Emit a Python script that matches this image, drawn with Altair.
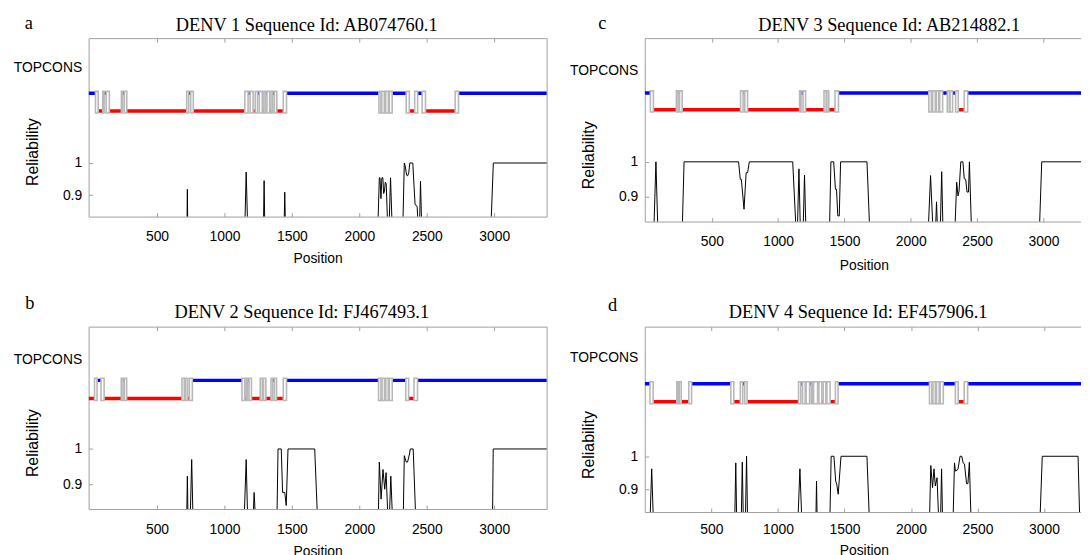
import altair as alt
import pandas as pd

# ---------------- data ----------------
# transmembrane segments (start, end) and side of the first loop
tm_a = [(44, 64), (98, 108), (123, 147), (236, 246), (258, 276), (720, 735), (750, 769),
        (1151, 1175), (1190, 1212), (1228, 1245), (1258, 1280), (1292, 1305), (1315, 1335),
        (1345, 1358), (1370, 1388), (1436, 1460), (2145, 2160), (2166, 2185), (2195, 2215),
        (2222, 2243), (2347, 2370), (2410, 2432), (2465, 2490), (2710, 2735)]
start_a = "out"
tm_b = [(37, 56), (85, 108), (235, 248), (258, 275), (685, 702), (712, 727), (740, 762),
        (1130, 1150), (1160, 1172), (1182, 1200), (1265, 1280), (1290, 1307), (1345, 1358),
        (1370, 1386), (1436, 1460), (2142, 2160), (2168, 2186), (2196, 2214), (2222, 2244),
        (2344, 2365), (2405, 2431)]
start_b = "in"
tm_c = [(37, 60), (233, 246), (257, 277), (717, 736), (749, 770), (1162, 1173), (1188, 1207),
        (1346, 1362), (1368, 1382), (1429, 1455), (2136, 2155), (2165, 2185), (2192, 2210),
        (2218, 2240), (2275, 2290), (2296, 2315), (2338, 2358), (2403, 2429)]
start_c = "out"
tm_d = [(38, 62), (240, 252), (258, 273), (330, 351), (646, 668), (717, 735), (750, 768),
        (1155, 1172), (1185, 1205), (1212, 1238), (1250, 1260), (1268, 1298), (1308, 1330),
        (1340, 1360), (1368, 1392), (1432, 1452), (2139, 2157), (2165, 2183), (2192, 2212),
        (2220, 2243), (2334, 2355), (2400, 2426)]
start_d = "out"

# reliability curves (position, value); 0.8 = below the visible range
rel_a = [(0, 0.8), (722, 0.8), (725, 0.918), (728, 0.8),
         (1151, 0.8), (1161, 0.972), (1172, 0.8),
         (1289, 0.8), (1294, 0.945), (1299, 0.8),
         (1442, 0.8), (1447, 0.909), (1452, 0.8),
         (2137, 0.8), (2148, 0.954), (2153, 0.954), (2160, 0.889), (2167, 0.954), (2174, 0.954),
         (2180, 0.905), (2186, 0.912), (2192, 0.94), (2199, 0.935), (2210, 0.8),
         (2220, 0.8), (2231, 0.954), (2243, 0.8),
         (2322, 0.8), (2333, 1.0), (2340, 0.99), (2350, 0.962), (2358, 0.96), (2366, 0.97),
         (2374, 1.0), (2396, 1.0), (2405, 0.93), (2413, 0.87), (2428, 0.865), (2436, 0.8),
         (2446, 0.8), (2453, 0.943), (2462, 0.8),
         (2975, 0.8), (2993, 1.0), (3400, 1.0)]
rel_b = [(0, 0.8), (720, 0.8), (725, 0.923), (727, 0.88), (729, 0.8),
         (746, 0.8), (757, 0.97), (767, 0.8),
         (1146, 0.8), (1161, 0.97), (1172, 0.8),
         (1212, 0.8), (1220, 0.877), (1230, 0.8),
         (1389, 0.8), (1397, 1.0), (1421, 1.0), (1431, 0.877), (1447, 0.877), (1458, 0.84),
         (1471, 1.0), (1669, 1.0), (1690, 0.8),
         (2140, 0.8), (2148, 0.963), (2161, 0.858), (2175, 0.942), (2188, 0.886), (2198, 0.933),
         (2212, 0.8),
         (2222, 0.8), (2233, 0.923), (2246, 0.8),
         (2325, 0.8), (2333, 0.981), (2347, 0.963), (2357, 0.963), (2368, 0.98), (2378, 1.0),
         (2399, 1.0), (2418, 0.8),
         (2987, 0.8), (2992, 1.0), (3400, 1.0)]
rel_c = [(0, 0.8), (63, 0.8), (79, 1.0), (94, 0.8),
         (277, 0.8), (291, 1.0), (702, 1.0), (715, 0.95), (723, 0.95), (743, 0.865), (759, 0.969),
         (770, 0.969), (783, 1.0), (1110, 1.0), (1136, 0.8),
         (1145, 0.8), (1157, 0.98), (1168, 0.8),
         (1188, 0.8), (1199, 0.962), (1210, 0.8),
         (1387, 0.8), (1398, 1.0), (1419, 1.0), (1432, 0.922), (1440, 0.922), (1450, 0.846),
         (1461, 0.846), (1471, 1.0), (1670, 1.0), (1691, 0.8),
         (2131, 0.8), (2149, 0.961), (2168, 0.8),
         (2186, 0.8), (2194, 0.886), (2202, 0.8),
         (2222, 0.8), (2233, 0.972), (2243, 0.8),
         (2332, 0.8), (2346, 0.942), (2356, 0.903), (2364, 0.917), (2377, 1.0), (2393, 1.0),
         (2403, 0.952), (2414, 0.95), (2424, 0.914), (2435, 0.914), (2442, 1.0), (2458, 0.8),
         (2969, 0.8), (2987, 1.0), (3400, 1.0)]
rel_d = [(0, 0.8), (38, 0.8), (51, 0.962), (64, 0.8),
         (675, 0.8), (683, 0.98), (690, 0.8),
         (724, 0.8), (732, 0.982), (740, 0.8),
         (755, 0.8), (764, 1.0), (772, 0.8),
         (1150, 0.8), (1165, 0.962), (1180, 0.8),
         (1285, 0.8), (1290, 0.925), (1295, 0.8),
         (1390, 0.8), (1400, 1.0), (1421, 1.0), (1434, 0.925), (1442, 0.915), (1453, 0.885),
         (1474, 1.0), (1669, 1.0), (1688, 0.8),
         (2139, 0.8), (2149, 0.972), (2162, 0.905), (2173, 0.962), (2183, 0.91), (2196, 0.935),
         (2209, 0.8),
         (2222, 0.8), (2230, 0.962), (2238, 0.8),
         (2316, 0.8), (2327, 0.98), (2334, 0.955), (2353, 0.96), (2369, 1.0), (2382, 1.0),
         (2392, 0.98), (2402, 0.977), (2418, 0.917), (2428, 0.917), (2439, 0.982), (2452, 0.8),
         (2969, 0.8), (2987, 1.0), (3256, 1.0), (3269, 0.8), (3400, 0.8)]

titles = ["DENV 1 Sequence Id: AB074760.1", "DENV 2 Sequence Id: FJ467493.1",
          "DENV 3 Sequence Id: AB214882.1", "DENV 4 Sequence Id: EF457906.1"]
letters = ["a", "b", "c", "d"]
x_ticks = [500, 1000, 1500, 2000, 2500, 3000]
y_ticks = [0.9, 1.0]
seq_end = 3400

# ---------------- style ----------------
BLUE = "#0000ff"
RED = "#ff0000"
BOXGRAY = "#b8b8b8"
FRAME = "#a0a0a0"
SANS = "Liberation Sans, Arial, Helvetica, sans-serif"
SERIF = "Liberation Serif, Times New Roman, serif"
FS = 14

# per-panel layout: x domain, width, height, y domain, topology levels, text placement
# (the right-hand panels are cut by the page edge, as in the reference)
layout = {
    "a": dict(xdom=[-7, 3388], w=462, h=180, ydom=[0.833, 1.389], blue=1.217, red=1.162,
              topv=1.298, tx=219.5, ty=-7.7, ldx=-64.9, ly=-9.8, lpad=13.5, tpad=7.5),
    "b": dict(xdom=[-7, 3388], w=462, h=184, ydom=[0.830, 1.346], blue=1.194, red=1.143,
              topv=1.252, tx=214.5, ty=-8.9, ldx=-64.4, ly=-18.1, lpad=14, tpad=7.5),
    "c": dict(xdom=[-5, 3298], w=442, h=185, ydom=[0.830, 1.352], blue=1.196, red=1.148,
              topv=1.261, tx=246.0, ty=-8.1, ldx=-47.5, ly=-10.2, lpad=13.5, tpad=9.5),
    "d": dict(xdom=[-1, 3293], w=442, h=187, ydom=[0.831, 1.393], blue=1.220, red=1.165,
              topv=1.298, tx=214.7, ty=-9.0, ldx=-37.5, ly=-15.8, lpad=10.5, tpad=7.5),
}


def make_panel(key, title, tms, start, rel):
    cfg = layout[key]
    x0, x1 = cfg["xdom"]
    lo, hi = cfg["ydom"]
    # loops between the helices
    loops = []
    side = start
    prev = x0
    for s, e in tms:
        loops.append({"start": prev, "end": s, "side": side,
                      "level": cfg["blue"] if side == "out" else cfg["red"]})
        side = "in" if side == "out" else "out"
        prev = e
    loops.append({"start": prev, "end": seq_end, "side": side,
                  "level": cfg["blue"] if side == "out" else cfg["red"]})
    loop_df = pd.DataFrame(loops)
    tm_df = pd.DataFrame({"start": [s for s, _ in tms], "end": [e for _, e in tms],
                          "top": cfg["blue"] + 0.006, "bottom": cfg["red"] - 0.006})
    rel_df = pd.DataFrame({"pos": [p for p, _ in rel], "val": [v for _, v in rel]})

    xscale = alt.Scale(domain=[x0, x1], nice=False, zero=False)
    yscale = alt.Scale(domain=[lo, hi], nice=False, zero=False)

    bottom_axis = alt.Axis(orient="bottom", values=x_ticks, format="d", offset=-4, tickSize=4,
                           tickColor=FRAME, domain=False, grid=False, labelFont=SANS,
                           labelFontSize=FS, labelColor="#000", labelPadding=cfg["lpad"],
                           labelFlush=False, labelOverlap=False,
                           title="Position", titleFont=SANS, titleFontSize=FS,
                           titleFontWeight="normal", titleColor="#000",
                           titlePadding=cfg["tpad"])
    top_axis = alt.Axis(orient="top", values=x_ticks, offset=-4, tickSize=4, tickColor=FRAME,
                        domain=False, grid=False, labels=False, title=title, titleFont=SERIF,
                        titleFontSize=18.5, titleFontWeight="normal", titleColor="#000",
                        titleX=cfg["tx"], titleY=cfg["ty"] - 4, titleBaseline="alphabetic",
                        titleAlign="center", titleAngle=0)
    left_axis = alt.Axis(orient="left", values=y_ticks + [cfg["topv"]], format="~g",
                         labelExpr="datum.value > 1.1 ? 'TOPCONS' : datum.label",
                         offset=-4, tickSize=4, tickColor=FRAME,
                         tickOpacity={"condition": {"test": "datum.value > 1.1", "value": 0},
                                      "value": 1},
                         domain=False, grid=False, labelFont=SANS, labelFontSize=FS,
                         labelColor="#000", labelPadding=7,
                         title="Reliability", titleFont=SANS, titleFontSize=16,
                         titleFontWeight="normal", titleColor="#000",
                         titleX=-61, titleY=0.636 * cfg["h"], titleAngle=270,
                         titleBaseline="middle", titleAlign="center")
    # panel letter, placed as the title of an otherwise empty right-hand axis
    letter_axis = alt.Axis(orient="right", labels=False, ticks=False, domain=False, grid=False,
                           title=key, titleFont=SERIF, titleFontSize=18.5,
                           titleFontWeight="normal", titleColor="#000", titleAngle=0,
                           titleAlign="left", titleBaseline="alphabetic",
                           titleX=cfg["ldx"] - cfg["w"], titleY=cfg["ly"])

    loop_layer = alt.Chart(loop_df).mark_rule(strokeWidth=3.5, clip=True, strokeCap="butt").encode(
        x=alt.X("start:Q", scale=xscale, axis=bottom_axis),
        x2="end:Q",
        y=alt.Y("level:Q", scale=yscale, axis=left_axis),
        color=alt.Color("side:N", scale=alt.Scale(domain=["out", "in"], range=[BLUE, RED]),
                        legend=None),
    )
    box_layer = alt.Chart(tm_df).mark_rect(fill="white", stroke=BOXGRAY, strokeWidth=1.6,
                                           clip=True).encode(
        x=alt.X("start:Q", scale=xscale, axis=top_axis),
        x2="end:Q",
        y=alt.Y("top:Q", scale=yscale, axis=letter_axis),
        y2="bottom:Q",
    )
    rel_layer = alt.Chart(rel_df).mark_line(color="black", strokeWidth=1, clip=True).encode(
        x=alt.X("pos:Q", scale=xscale, axis=None),
        y=alt.Y("val:Q", scale=yscale, axis=None),
    )
    return alt.layer(loop_layer, box_layer, rel_layer).resolve_axis(
        x="independent", y="independent"
    ).properties(width=cfg["w"], height=cfg["h"])


pa = make_panel("a", titles[0], tm_a, start_a, rel_a)
pb = make_panel("b", titles[1], tm_b, start_b, rel_b)
pc = make_panel("c", titles[2], tm_c, start_c, rel_c)
pd_ = make_panel("d", titles[3], tm_d, start_d, rel_d)

row1 = alt.hconcat(pa, pc, spacing=21)
row2 = alt.hconcat(pb, pd_, spacing=21)
chart = alt.vconcat(row1, row2, spacing=20).properties(
    padding={"left": 4.3, "top": 2, "right": -3, "bottom": 0}
).configure_view(stroke=FRAME, strokeWidth=1)

chart.save("out.html", embed_options={"renderer": "svg", "actions": False})
